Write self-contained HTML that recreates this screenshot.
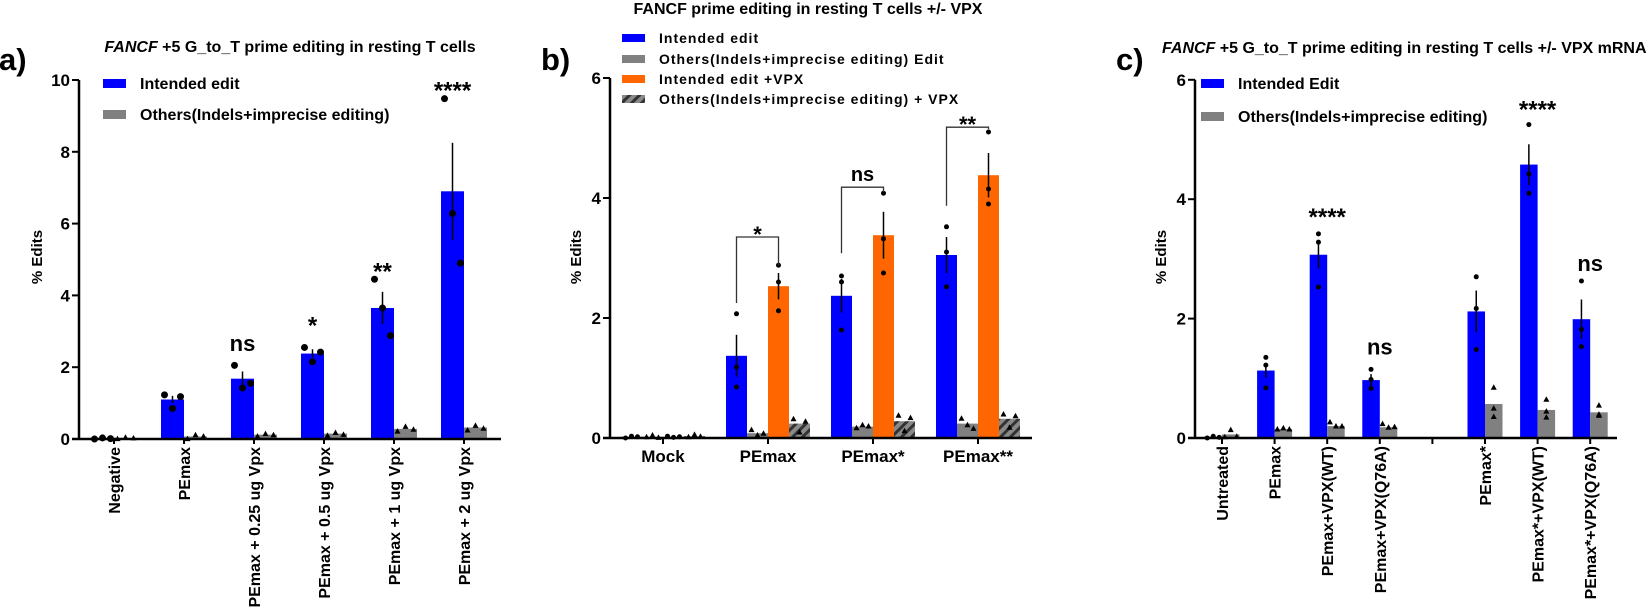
<!DOCTYPE html>
<html><head><meta charset="utf-8">
<style>
html,body{margin:0;padding:0;background:#fff;}
svg{display:block;font-family:"Liberation Sans",sans-serif;font-weight:bold;}
</style></head>
<body>
<svg id="fig" width="1650" height="611" viewBox="0 0 1650 611" xmlns="http://www.w3.org/2000/svg">
<defs>
<pattern id="hatch" patternUnits="userSpaceOnUse" width="7" height="7" patternTransform="rotate(45)">
<rect width="7" height="7" fill="#8a8a8a"/><rect width="3" height="7" fill="#333"/>
</pattern>
</defs>
</svg>
<script>
// ---- Panel a data ----
const aCats=["Negative","PEmax","PEmax + 0.25 ug Vpx","PEmax + 0.5 ug Vpx","PEmax + 1 ug Vpx","PEmax + 2 ug Vpx"];
const aIntended=[0.02,1.1,1.68,2.38,3.65,6.9];
const aIntendedErr=[0.01,0.1,0.2,0.12,0.45,1.35];
const aOthers=[0.03,0.07,0.12,0.15,0.28,0.32];
const aIntendedDots=[[0,0.03,0.01],[1.23,0.85,1.18],[2.05,1.42,1.55],[2.55,2.15,2.42],[4.45,3.65,2.88],[9.48,6.28,4.9]];
const aOthersDots=[[0.01,0.05,0.03],[0.01,0.12,0.08],[0.08,0.15,0.12],[0.1,0.18,0.13],[0.22,0.35,0.27],[0.25,0.38,0.3]];
const aSig=["","","ns","*","**","****"];
const aSigVal=[0,0,2.45,3.3,4.8,9.85];
const aTicks=[0,2,4,6,8,10];
// ---- Panel b data ----
const bCats=["Mock","PEmax","PEmax*","PEmax**"];
const bIntended=[0.02,1.37,2.37,3.05];
const bIntendedErr=[0.01,0.35,0.28,0.3];
const bOthers=[0.02,0.08,0.19,0.24];
const bIntendedVpx=[0.02,2.53,3.38,4.38];
const bIntendedVpxErr=[0.01,0.22,0.39,0.37];
const bOthersVpx=[0.03,0.24,0.28,0.32];
const bIntendedDots=[[0,0.03,0.02],[2.07,1.18,0.85],[2.7,2.6,1.8],[3.52,3.1,2.52]];
const bIntendedVpxDots=[[0.03,0.01,0.02],[2.88,2.6,2.12],[4.08,3.32,2.75],[5.1,4.15,3.9]];
const bOthersDots=[[0.02,0.05,0.01],[0.14,0.05,0.08],[0.17,0.22,0.2],[0.33,0.22,0.16]];
const bOthersVpxDots=[[0.02,0.06,0.03],[0.32,0.1,0.28],[0.38,0.12,0.34],[0.4,0.18,0.37]];
const bSig=["","*","ns","**"];
const bBracketLow=[0,2.25,3.08,3.87];
const bBracketHigh=[0,3.35,4.18,5.18];
const bBracketRight=[0,2.88,4.1,5.15];
const bTicks=[0,2,4,6];
// ---- Panel c data ----
const cCats=["Untreated","PEmax","PEmax+VPX(WT)","PEmax+VPX(Q76A)","","PEmax*","PEmax*+VPX(WT)","PEmax*+VPX(Q76A)"];
const cIntended=[0.02,1.13,3.07,0.97,null,2.12,4.58,1.99];
const cIntendedErr=[0.01,0.12,0.23,0.1,null,0.35,0.34,0.33];
const cOthers=[0.06,0.15,0.2,0.18,null,0.57,0.47,0.43];
const cIntendedDots=[[0,0.03,0.01],[1.35,1.22,0.84],[3.42,3.28,2.53],[1.15,0.98,0.83],null,[2.7,2.17,1.48],[5.25,4.42,4.1],[2.63,1.82,1.53]];
const cOthersDots=[[0.02,0.14,0.03],[0.15,0.17,0.15],[0.27,0.2,0.2],[0.24,0.18,0.19],null,[0.85,0.5,0.36],[0.65,0.45,0.35],[0.55,0.4,0.38]];
const cSig=["","","****","ns","","","****","ns"];
const cSigVal=[0,0,3.75,1.4,0,0,5.55,2.8];
const cTicks=[0,2,4,6];

const NS="http://www.w3.org/2000/svg";
const svg=document.getElementById('fig');
function mk(tag,attrs,parent){const e=document.createElementNS(NS,tag);for(const k in attrs)e.setAttribute(k,attrs[k]);(parent||svg).appendChild(e);return e;}
function txt(s,attrs,parent){const e=mk('text',attrs,parent);e.textContent=s;return e;}
function tri(x,y,g){return mk('path',{d:`M${x-3},${y+2.5} L${x+3},${y+2.5} L${x},${y-3} Z`,fill:'#000'},g);}

function axes(g,x0,x1,y0,yScale,ticks){
  const yTop=yScale(ticks[ticks.length-1]);
  const ya=mk('line',{x1:x0,y1:y0+1,x2:x0,y2:yTop,stroke:'#000','stroke-width':2.5},g);
  
  
  const xa=mk('line',{x1:x0-7,y1:y0,x2:x1,y2:y0,stroke:'#000','stroke-width':2.5},g);
  
  
  ticks.forEach(t=>{
    const y=yScale(t);
    mk('line',{x1:x0-7,y1:y,x2:x0,y2:y,stroke:'#000','stroke-width':2},g);
    const l=txt(String(t),{x:x0-9,y:y+6,'font-size':17,'text-anchor':'end'},g);
    
    
  });
}
function bar(g,x,w,v,ys,fill,y0){
  return mk('rect',{x:x,y:ys(v),width:w,height:y0-ys(v),fill:fill},g);
}
function err(g,cx,v,e,ys){mk('line',{x1:cx,y1:ys(v+e),x2:cx,y2:ys(v-e),stroke:'#000','stroke-width':1.5},g);}

// ================= Panel A =================
(function(){
  const g=mk('g',{});
  
  
  const y0=439, ys=v=>439-v*35.9, xs=i=>114+i*70;
  const lab=txt('a)',{x:-1,y:70,'font-size':31},g);
  
  
  const t=mk('text',{x:290,y:52,'font-size':16,'text-anchor':'middle'},g);
  t.innerHTML='<tspan font-style="italic">FANCF</tspan> +5 G_to_T prime editing in resting T cells';
  
  
  aCats.forEach((c,i)=>{
    const cx=xs(i);
    const b1=bar(g,cx-23,23,aIntended[i],ys,'#0000ff',y0);
    
    
    const b2=bar(g,cx,23,aOthers[i],ys,'#808080',y0);
    
    
    err(g,cx-11.5,aIntended[i],aIntendedErr[i],ys);
    const off=[-8,0,8];
    aIntendedDots[i].forEach((d,k)=>mk('circle',{cx:cx-11.5+off[k],cy:ys(d),r:3.5,fill:'#000'},g));
    aOthersDots[i].forEach((d,k)=>tri(cx+11.5+off[k],ys(d),g));
    mk('line',{x1:cx,y1:y0,x2:cx,y2:y0+5,stroke:'#000','stroke-width':2},g);
    const xl=txt(c,{x:cx+6,y:y0+8,'font-size':16,'text-anchor':'end',transform:`rotate(-90 ${cx+6} ${y0+8})`},g);
    
    
    if(aSig[i]){
      const s=txt(aSig[i],{x:cx-11.5,y:ys(aSigVal[i])+(aSig[i]==='ns'?0:13),'font-size':aSig[i]==='ns'?22:24,'text-anchor':'middle'},g);
      
      
    }
  });
  axes(g,79,501,y0,ys,aTicks);
  const yl=txt('% Edits',{x:0,y:0,'font-size':15,'text-anchor':'middle',transform:'translate(42 257) rotate(-90)'},g);
  
  
  const l1=mk('rect',{x:103,y:79,width:23,height:9,fill:'#0000ff'},g);
  
  
  const l1t=txt('Intended edit',{x:140,y:89,'font-size':16},g);
  
  
  const l2=mk('rect',{x:103,y:110,width:23,height:9,fill:'#808080'},g);
  
  
  const l2t=txt('Others(Indels+imprecise editing)',{x:140,y:120,'font-size':16},g);
  
  
})();

// ================= Panel B =================
(function(){
  const g=mk('g',{});
  
  
  const y0=438, ys=v=>438-v*60, xs=i=>663+i*105;
  const lab=txt('b)',{x:541,y:70,'font-size':31},g);
  
  
  const t=txt('FANCF prime editing in resting T cells +/-  VPX',{x:808,y:14,'font-size':16,'text-anchor':'middle'},g);
  
  
  bCats.forEach((c,i)=>{
    const cx=xs(i);
    const b1=bar(g,cx-42,21,bIntended[i],ys,'#0000ff',y0);
    
    
    const b2=bar(g,cx-21,21,bOthers[i],ys,'#808080',y0);
    
    
    const b3=bar(g,cx,21,bIntendedVpx[i],ys,'#ff6600',y0);
    
    
    const b4=bar(g,cx+21,21,bOthersVpx[i],ys,'url(#hatch)',y0);
    
    
    err(g,cx-31.5,bIntended[i],bIntendedErr[i],ys);
    err(g,cx+10.5,bIntendedVpx[i],bIntendedVpxErr[i],ys);
    const offo=[-6,0,6];
    bIntendedDots[i].forEach((d,k)=>mk('circle',{cx:cx-31.5+(i?0:offo[k]),cy:ys(d),r:2.5,fill:'#000'},g));
    bIntendedVpxDots[i].forEach((d,k)=>mk('circle',{cx:cx+10.5+(i?0:offo[k]),cy:ys(d),r:2.5,fill:'#000'},g));
    bOthersDots[i].forEach((d,k)=>tri(cx-10.5+offo[k],ys(d),g));
    bOthersVpxDots[i].forEach((d,k)=>tri(cx+31.5+offo[k],ys(d),g));
    mk('line',{x1:cx,y1:y0,x2:cx,y2:y0+6,stroke:'#000','stroke-width':2},g);
    const xl=txt(c,{x:cx,y:y0+24,'font-size':17,'text-anchor':'middle'},g);
    
    
    if(bSig[i]){
      const lx=cx-31.5, rx=cx+10.5;
      const br=mk('path',{d:`M${lx},${ys(bBracketLow[i])} L${lx},${ys(bBracketHigh[i])} L${rx},${ys(bBracketHigh[i])} L${rx},${ys(bBracketRight[i])}`,fill:'none',stroke:'#333','stroke-width':1.3},g);
      
      
      const s=txt(bSig[i],{x:(lx+rx)/2,y:ys(bBracketHigh[i])-6+(bSig[i]==='ns'?0:11),'font-size':bSig[i]==='ns'?20:22,'text-anchor':'middle'},g);
      
      
    }
  });
  axes(g,610,1032,y0,ys,bTicks);
  const yl=txt('%  Edits',{x:0,y:0,'font-size':15,'text-anchor':'middle',transform:'translate(581 257) rotate(-90)'},g);
  
  
  const leg=[['Intended edit','#0000ff'],['Others(Indels+imprecise editing) Edit','#808080'],['Intended edit +VPX','#ff6600'],['Others(Indels+imprecise editing) + VPX','url(#hatch)']];
  const ly=[38,59,79,99];
  leg.forEach((L,k)=>{
    const r=mk('rect',{x:622,y:ly[k]-4,width:23,height:8,fill:L[1]},g);
    
    
    const tt=txt(L[0],{x:659,y:ly[k]+5,'font-size':14,'letter-spacing':'1'},g);
    
    
  });
})();

// ================= Panel C =================
(function(){
  const g=mk('g',{});
  
  
  const y0=438, ys=v=>438-v*59.7, xs=i=>1222+i*52.6;
  const lab=txt('c)',{x:1116,y:70,'font-size':31},g);
  
  
  const t=mk('text',{x:1162,y:53,'font-size':16},g);
  t.innerHTML='<tspan font-style="italic">FANCF</tspan> +5 G_to_T prime editing in resting T cells +/- VPX mRNA';
  
  
  cCats.forEach((c,i)=>{
    const cx=xs(i);
    mk('line',{x1:cx,y1:y0,x2:cx,y2:y0+6,stroke:'#000','stroke-width':2},g);
    if(cIntended[i]===null) return;
    const b1=bar(g,cx-17.5,17.5,cIntended[i],ys,'#0000ff',y0);
    
    
    const b2=bar(g,cx,17.5,cOthers[i],ys,'#808080',y0);
    
    
    err(g,cx-8.75,cIntended[i],cIntendedErr[i],ys);
    const offo=[-6,0,6];
    cIntendedDots[i].forEach((d,k)=>mk('circle',{cx:cx-8.75+(i?0:offo[k]),cy:ys(d),r:2.5,fill:'#000'},g));
    cOthersDots[i].forEach((d,k)=>tri(cx+8.75+(i<4?offo[k]:0),ys(d),g));
    const xl=txt(c,{x:cx+6,y:y0+8,'font-size':16,'text-anchor':'end',transform:`rotate(-90 ${cx+6} ${y0+8})`},g);
    
    
    if(cSig[i]){
      const s=txt(cSig[i],{x:cx,y:ys(cSigVal[i])+(cSig[i]==='ns'?0:11),'font-size':cSig[i]==='ns'?22:24,'text-anchor':'middle'},g);
      
      
    }
  });
  axes(g,1195,1617,y0,ys,cTicks);
  const yl=txt('% Edits',{x:0,y:0,'font-size':15,'text-anchor':'middle',transform:'translate(1166 257) rotate(-90)'},g);
  
  
  const l1=mk('rect',{x:1201,y:79,width:23,height:9,fill:'#0000ff'},g);
  
  
  const l1t=txt('Intended Edit',{x:1238,y:89,'font-size':16},g);
  
  
  const l2=mk('rect',{x:1201,y:112,width:23,height:9,fill:'#808080'},g);
  
  
  const l2t=txt('Others(Indels+imprecise editing)',{x:1238,y:122,'font-size':16},g);
  
  
})();
</script>
</body></html>
